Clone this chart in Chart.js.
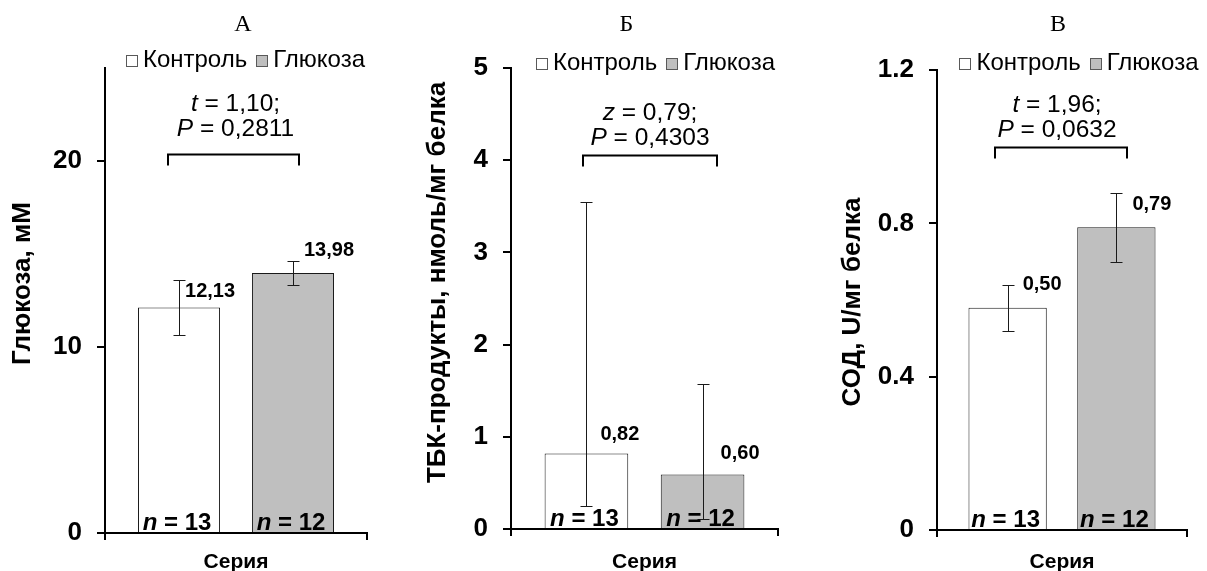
<!DOCTYPE html>
<html>
<head>
<meta charset="utf-8">
<script src="https://cdn.jsdelivr.net/npm/chart.js@4/dist/chart.umd.min.js"></script>
<style>
  html, body { margin: 0; padding: 0; background: #fff; width: 1207px; height: 571px; overflow: hidden; position: relative; }
  canvas { position: absolute; top: 0; }
</style>
</head>
<body>
<canvas id="chartA" width="400" height="571" style="left:0px"></canvas>
<canvas id="chartB" width="395" height="571" style="left:405px"></canvas>
<canvas id="chartC" width="372" height="571" style="left:835px"></canvas>
<script>
// data
const categories = ['Серия'];
const seriesNames = ['Контроль', 'Глюкоза'];
const groupSizes = [13, 12];

// А — глюкоза
const glucoseMean = [12.13, 13.98];
const glucoseLow = [10.65, 13.33];
const glucoseHigh = [13.60, 14.64];
const glucoseLabels = ['12,13', '13,98'];
const glucoseTicks = ['0', '10', '20'];

// Б — ТБК-продукты
const tbaMean = [0.82, 0.59];
const tbaLow = [0.25, 0.11];
const tbaHigh = [3.55, 1.57];
const tbaLabels = ['0,82', '0,60'];
const tbaTicks = ['0', '1', '2', '3', '4', '5'];

// В — СОД
const sodMean = [0.58, 0.79];
const sodLow = [0.52, 0.70];
const sodHigh = [0.64, 0.88];
const sodLabels = ['0,50', '0,79'];
const sodTicks = ['0', '0.4', '0.8', '1.2'];

const panelLetters = ['А', 'Б', 'В'];
const axisTitles = ['Глюкоза, мМ', 'ТБК-продукты, нмоль/мг белка', 'СОД, U/мг белка'];
const testNames = ['t', 'z', 't'];
const testValues = ['1,10', '0,79', '1,96'];
const pValues = ['0,2811', '0,4303', '0,0632'];
const axisMax = [25, 5, 1.2];
const axisStep = [10, 1, 0.4];

const FONT = "'Liberation Sans', Arial, sans-serif";
const SERIF = "'Liberation Serif', 'Times New Roman', serif";
const barColors = ['#ffffff', '#bfbfbf'];

const panels = {};

// draws a run of text pieces with different fonts (italic letters inside)
function drawParts(ctx, parts, x, y, align) {
  let total = 0;
  parts.forEach(([t, f]) => { ctx.font = f; total += ctx.measureText(t).width; });
  let cx = align === 'center' ? x - total / 2 : x;
  ctx.textAlign = 'left';
  parts.forEach(([t, f]) => {
    ctx.font = f;
    ctx.fillText(t, cx, y);
    cx += ctx.measureText(t).width;
  });
}

function drawLegend(ctx, chart, cx, cy) {
  const font = `24px ${FONT}`;
  const box = 11, gap = 6, itemGap = 9;
  ctx.font = font;
  const widths = seriesNames.map(n => box + gap + ctx.measureText(n).width);
  const total = widths.reduce((a, b) => a + b, 0) + itemGap * (widths.length - 1);
  let x = cx - total / 2;
  ctx.textBaseline = 'middle';
  ctx.textAlign = 'left';
  seriesNames.forEach((name, i) => {
    const ds = chart.data.datasets[i];
    const bx = Math.round(x) + 0.5, byy = Math.round(cy - box / 2) + 0.5;
    ctx.fillStyle = ds.backgroundColor;
    ctx.fillRect(bx, byy, box, box);
    ctx.strokeStyle = '#595959';
    ctx.lineWidth = 1;
    ctx.strokeRect(bx, byy, box, box);
    ctx.fillStyle = '#000';
    ctx.fillText(name, x + box + gap, cy);
    x += widths[i] + itemGap;
  });
}

const annotations = {
  id: 'annotations',
  afterDatasetsDraw(chart) {
    const p = panels[chart.canvas.id];
    const { ctx, chartArea } = chart;
    const yScale = chart.scales.y;
    const bars = chart.data.datasets.map((d, i) => chart.getDatasetMeta(i).data[0]);
    const midX = (chartArea.left + chartArea.right) / 2;
    const midY = (chartArea.top + chartArea.bottom) / 2;

    ctx.save();
    ctx.fillStyle = '#000';

    // error bars
    ctx.strokeStyle = '#1a1a1a';
    ctx.lineWidth = 1;
    bars.forEach((bar, i) => {
      const x = Math.round(bar.x) + 0.5;
      const top = Math.round(yScale.getPixelForValue(p.high[i])) + 0.5;
      const bot = Math.round(yScale.getPixelForValue(p.low[i])) + 0.5;
      ctx.beginPath();
      ctx.moveTo(x, top); ctx.lineTo(x, bot);
      ctx.moveTo(x - 6, top); ctx.lineTo(x + 6, top);
      ctx.moveTo(x - 6, bot); ctx.lineTo(x + 6, bot);
      ctx.stroke();
    });

    // value labels
    ctx.textBaseline = 'middle';
    bars.forEach((bar, i) => {
      drawParts(ctx, [[p.labels[i], `bold 20px ${FONT}`]], bar.x + p.labelDx[i], bar.y + p.labelDy[i], 'left');
    });

    // n = ...
    ctx.textBaseline = 'alphabetic';
    bars.forEach((bar, i) => {
      drawParts(ctx, [['n', `italic bold 24px ${FONT}`], [' = ' + groupSizes[i], `bold 24px ${FONT}`]],
        bar.x - 2, chartArea.bottom - 3, 'center');
    });

    // bracket
    const by = Math.round(yScale.getPixelForValue(p.bracketAt)) + 0.5;
    const x1 = Math.round(bars[0].x + p.bracketDx[0]);
    const x2 = Math.round(bars[1].x + p.bracketDx[1]);
    ctx.strokeStyle = '#000';
    ctx.lineWidth = 2;
    ctx.beginPath();
    ctx.moveTo(x1, by + 11); ctx.lineTo(x1, by); ctx.lineTo(x2, by); ctx.lineTo(x2, by + 11);
    ctx.stroke();

    // test statistics
    ctx.textBaseline = 'middle';
    const sx = (x1 + x2) / 2 + p.statsDx;
    drawParts(ctx, [[p.test, `italic 24.5px ${FONT}`], [' = ' + p.testValue + ';', `24.5px ${FONT}`]], sx, by + p.statsDy, 'center');
    drawParts(ctx, [['P', `italic 24.5px ${FONT}`], [' = ' + p.pValue, `24.5px ${FONT}`]], sx, by + p.statsDy + 25, 'center');

    // panel letter and legend
    drawParts(ctx, [[p.letter, `24px ${SERIF}`]], midX + p.letterDx, 25, 'center');
    drawLegend(ctx, chart, midX + p.legendDx, p.legendY);

    // y axis title
    ctx.save();
    ctx.translate(p.titleX, midY + p.titleDy);
    ctx.rotate(-Math.PI / 2);
    ctx.font = `bold 26px ${FONT}`;
    ctx.textAlign = 'center';
    ctx.textBaseline = 'middle';
    ctx.fillStyle = '#000';
    ctx.fillText(p.title, 0, 0);
    ctx.restore();

    ctx.restore();
  }
};

function buildChart(id, p) {
  panels[id] = p;
  return new Chart(document.getElementById(id), {
    type: 'bar',
    data: {
      labels: categories,
      datasets: seriesNames.map((name, i) => ({
        label: name,
        data: [p.mean[i]],
        backgroundColor: barColors[i],
        borderColor: '#1a1a1a',
        borderWidth: 1,
        categoryPercentage: 0.87,
        barPercentage: 0.72
      }))
    },
    options: {
      responsive: false,
      animation: false,
      devicePixelRatio: 1,
      layout: { padding: { top: p.top, left: 0, right: p.right, bottom: 0 } },
      plugins: {
        legend: { display: false },
        tooltip: { enabled: false }
      },
      scales: {
        x: {
          grid: { display: true, drawOnChartArea: false, offset: true, tickLength: 7, color: '#000', lineWidth: 2 },
          border: { display: true, color: '#000', width: 2 },
          ticks: { display: false },
          title: {
            display: true, text: categories[0], color: '#000', padding: 0,
            font: { family: FONT, size: 21, weight: 'bold', lineHeight: 0.8 }
          },
          afterFit: s => { s.height = p.bottomHeight; }
        },
        y: {
          min: 0,
          max: p.max,
          ticks: {
            stepSize: p.step, includeBounds: false, padding: 15, color: '#000',
            font: { family: FONT, size: 26, weight: 'bold' },
            callback: (v, i) => p.ticks[i]
          },
          grid: { drawOnChartArea: false, tickLength: 8, color: '#000', lineWidth: 2 },
          border: { color: '#000', width: 2 },
          afterFit: s => { s.width = p.axisWidth; }
        }
      }
    },
    plugins: [annotations]
  });
}

buildChart('chartA', {
  mean: glucoseMean, low: glucoseLow, high: glucoseHigh, labels: glucoseLabels, ticks: glucoseTicks,
  max: axisMax[0], step: axisStep[0], title: axisTitles[0], letter: panelLetters[0],
  test: testNames[0], testValue: testValues[0], pValue: pValues[0],
  top: 68, right: 33, axisWidth: 105, bottomHeight: 38,
  legendDx: 9.5, legendY: 60, titleX: 23, titleDy: -17,
  labelDx: [6, 11], labelDy: [-16, -22], bracketAt: 20.4, bracketDx: [-11, 6], statsDx: 2, statsDy: -50, letterDx: 7
});

buildChart('chartB', {
  mean: tbaMean, low: tbaLow, high: tbaHigh, labels: tbaLabels, ticks: tbaTicks,
  max: axisMax[1], step: axisStep[1], title: axisTitles[1], letter: panelLetters[1],
  test: testNames[1], testValue: testValues[1], pValue: pValues[1],
  top: 68, right: 22, axisWidth: 106, bottomHeight: 42,
  legendDx: 11, legendY: 63, titleX: 33, titleDy: -16,
  labelDx: [14, 18], labelDy: [-19, -21], bracketAt: 4.06, bracketDx: [-3, 14], statsDx: 0, statsDy: -42, letterDx: -18
});

buildChart('chartC', {
  mean: sodMean, low: sodLow, high: sodHigh, labels: sodLabels, ticks: sodTicks,
  max: axisMax[2], step: axisStep[2], title: axisTitles[2], letter: panelLetters[2],
  test: testNames[2], testValue: testValues[2], pValue: pValues[2],
  top: 70, right: 20, axisWidth: 102, bottomHeight: 41,
  legendDx: 17, legendY: 63, titleX: 18, titleDy: 2,
  labelDx: [15, 16], labelDy: [-23, -23], bracketAt: 1.0, bracketDx: [-13, 11], statsDx: -4, statsDy: -42, letterDx: -4
});
</script>
</body>
</html>
